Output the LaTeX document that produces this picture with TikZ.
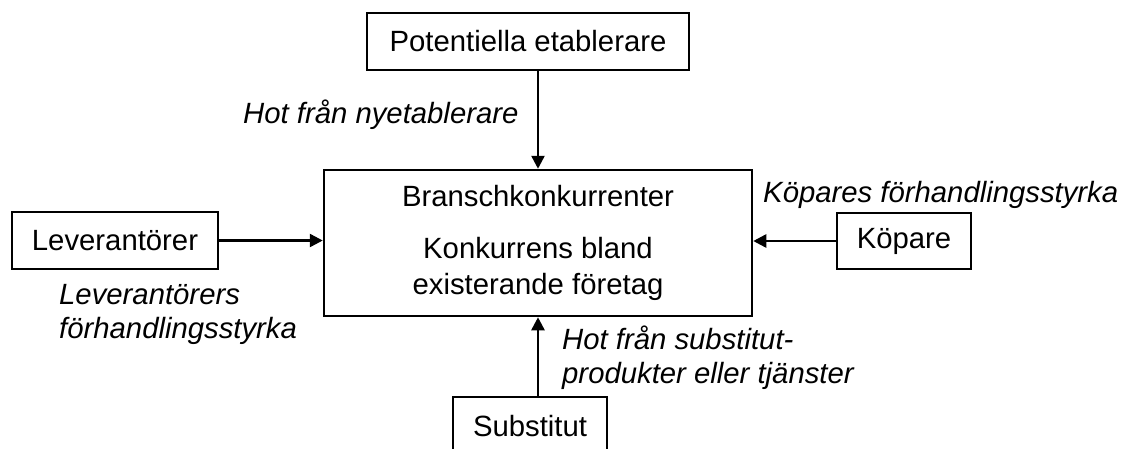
\documentclass[tikz,border=0pt]{standalone}
\usepackage{fontspec}
\setmainfont{Liberation Sans}
\usetikzlibrary{arrows.meta}
\begin{document}
\begin{tikzpicture}[x=1pt,y=-1pt,
  every node/.style={font=\fontsize{29.3}{34}\selectfont},
  box/.style={draw=black, line width=2.5pt, inner sep=0pt, align=center},
  lbl/.style={inner sep=0pt, font=\fontsize{29.3}{34}\selectfont\itshape, align=left},
  arr/.style={line width=2.5pt, -{Triangle[length=13pt,width=13pt]}}]
  \useasboundingbox (0,0) rectangle (1122,448);
  \clip (0,0) rectangle (1122,448);
  \fill[white] (0,0) rectangle (1122,448);

  % the five forces
  \node[box, minimum width=322pt, minimum height=57pt] (pot) at (528,41.5) {Potentiella etablerare};
  \node[box, minimum width=206pt, minimum height=57pt] (lev) at (115,240.5) {Leverantörer};
  \node[box, minimum width=134pt, minimum height=56pt] (kop) at (904,241) {Köpare};
  \node[box, minimum width=154pt, minimum height=58pt] (sub) at (530,426) {Substitut};
  \node[box, minimum width=428pt, minimum height=146pt,
        font=\fontsize{29.3}{36}\selectfont] (cb) at (538,243)
        {Branschkonkurrenter\\[16pt]Konkurrens bland\\existerande företag};

  % pressures on the industry
  \draw[arr] (cb.north |- pot.south) -- (cb.north);
  \draw[arr] (lev.east) -- (lev.east -| cb.west);
  \draw[arr] (kop.west) -- (kop.west -| cb.east);
  \draw[arr] (cb.south |- sub.north) -- (cb.south);

  % labels of the pressures
  \node[lbl, anchor=base west] (lnew) at (243,123) {Hot från nyetablerare};
  \node[lbl, anchor=base west] (lbuy) at (763,202) {Köpares förhandlingsstyrka};
  \node[lbl, anchor=north west] (lsup) at (59,284) {Leverantörers\\förhandlingsstyrka};
  \node[lbl, anchor=north west] (lsub) at (562,326) {Hot från substitut-\\produkter eller tjänster};
\end{tikzpicture}
\end{document}
